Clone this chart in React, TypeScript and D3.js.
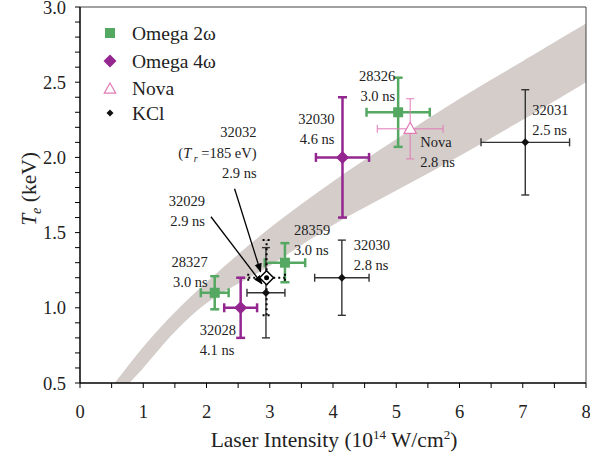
import * as d3 from "d3";
import * as React from "react";

// band (shaded model region): upper and lower edges
const bandUpperI = [0.55, 1.0, 1.5, 2.0, 3.0, 4.0, 5.0, 6.0, 7.0, 8.0];
const bandUpperT = [0.5, 0.74, 0.97, 1.17, 1.53, 1.84, 2.12, 2.39, 2.64, 2.89];
const bandLowerI = [0.78, 1.0, 1.5, 2.0, 3.0, 4.0, 5.0, 6.0, 7.0, 8.0];
const bandLowerT = [0.5, 0.6, 0.84, 1.03, 1.28, 1.55, 1.78, 2.01, 2.25, 2.5];

// Omega 2w (green squares)
const omega2Shots = ["28327", "28359", "28326"];
const omega2Pulse = ["3.0 ns", "3.0 ns", "3.0 ns"];
const omega2I = [2.13, 3.24, 5.03];
const omega2T = [1.1, 1.3, 2.3];
const omega2dI = [0.22, 0.32, 0.5];
const omega2dT = [0.11, 0.13, 0.23];

// Omega 4w (purple diamonds)
const omega4Shots = ["32028", "32030"];
const omega4Pulse = ["4.1 ns", "4.6 ns"];
const omega4I = [2.54, 4.15];
const omega4T = [1.0, 2.0];
const omega4dI = [0.26, 0.42];
const omega4dT = [0.2, 0.4];

// Nova (open triangle)
const novaI = [5.22];
const novaT = [2.19];
const novadI = [0.52];
const novadT = [0.2];

// KCl (small black diamonds)
const kclShots = ["32029", "32030", "32031"];
const kclPulse = ["2.9 ns", "2.8 ns", "2.5 ns"];
const kclI = [2.94, 4.14, 7.04];
const kclT = [1.1, 1.2, 2.1];
const kcldI = [0.3, 0.43, 0.7];
const kcldT = [0.3, 0.25, 0.35];

// KCl 32032 (open diamond, dotted bars)
const k32032I = 2.95;
const k32032T = 1.2;
const k32032dI = 0.29;
const k32032dT = 0.25;

const xTicks = [0, 1, 2, 3, 4, 5, 6, 7, 8];
const yTicks = [0.5, 1.0, 1.5, 2.0, 2.5, 3.0];
const legendNames = ["Omega 2\u03c9", "Omega 4\u03c9", "Nova", "KCl"];

const W = 590, H = 457;
const FONT = "'Liberation Serif', 'Times New Roman', serif";
const GREEN = "#55a862";
const PURPLE = "#93278f";
const PINK = "#e17ab6";
const BLACK = "#222";
const BAND = "#d4cdca";

export default function App() {
  const x = d3.scaleLinear().domain([0, 8]).range([80, 586]);
  const y = d3.scaleLinear().domain([0.5, 3]).range([383, 7]);

  const line = d3.line<[number, number]>().x(d => x(d[0])).y(d => y(d[1])).curve(d3.curveCatmullRom);
  const up = bandUpperI.map((v, i) => [v, bandUpperT[i]] as [number, number]);
  const lo = bandLowerI.map((v, i) => [v, bandLowerT[i]] as [number, number]).reverse();
  const bandPath = line(up) + "L" + (line(lo) || "").slice(1) + "Z";

  const errBar = (I: number, T: number, dI: number, dT: number, color: string, sw: number, cap: number, dash?: string, key?: string) => (
    <g key={key} stroke={color} strokeWidth={sw} strokeDasharray={dash} fill="none">
      <line x1={x(I - dI)} x2={x(I + dI)} y1={y(T)} y2={y(T)} />
      <line x1={x(I)} x2={x(I)} y1={y(T - dT)} y2={y(T + dT)} />
      <line x1={x(I - dI)} x2={x(I - dI)} y1={y(T) - cap} y2={y(T) + cap} />
      <line x1={x(I + dI)} x2={x(I + dI)} y1={y(T) - cap} y2={y(T) + cap} />
      <line x1={x(I) - cap} x2={x(I) + cap} y1={y(T - dT)} y2={y(T - dT)} />
      <line x1={x(I) - cap} x2={x(I) + cap} y1={y(T + dT)} y2={y(T + dT)} />
    </g>
  );

  const label = (px: number, py: number, lines: string[], anchor: string, key: string) => (
    <text key={key} x={px} y={py} textAnchor={anchor} fontFamily={FONT} fontSize={14.5} fill={BLACK}>
      {lines.map((l, i) => (
        <tspan key={i} x={px} dy={i === 0 ? 0 : 20}>{l}</tspan>
      ))}
    </text>
  );

  const diamond = (cx: number, cy: number, r: number) => `M${cx},${cy - r}L${cx + r},${cy}L${cx},${cy + r}L${cx - r},${cy}Z`;
  const triangle = (cx: number, cy: number, r: number) => `M${cx},${cy - r}L${cx + r * 0.95},${cy + r * 0.7}L${cx - r * 0.95},${cy + r * 0.7}Z`;

  // label offsets (pixels) relative to each point
  const o2Off = [[-7, -26, "end"], [9, -28, "start"], [-3, -31, "end"]];
  const o4Off = [[-41, 27, "start"], [-8, -33, "end"]];
  const kOff = [[-61, -87, "end"], [12, -28, "start"], [7, -27, "start"]];

  const yMinor = d3.range(5, 31).map(v => v / 10);
  const xMinor = d3.range(0, 17).map(v => v / 2);

  return (
    <svg width={W} height={H} style={{ position: "absolute", left: 0, top: 0 }}>
      <rect width={W} height={H} fill="#fff" />
      <defs>
        <clipPath id="plot">
          <rect x={80} y={7} width={506} height={376} />
        </clipPath>
        <marker id="arr" viewBox="0 0 10 10" refX={9} refY={5} markerWidth={7} markerHeight={7} orient="auto">
          <path d="M0,1L10,5L0,9Z" fill="#000" />
        </marker>
      </defs>

      <path d={bandPath} fill={BAND} clipPath="url(#plot)" />

      {/* frame */}
      <line x1={80} x2={586} y1={7} y2={7} stroke="#444" strokeWidth={1} />
      <line x1={586} x2={586} y1={7} y2={383} stroke="#444" strokeWidth={1} />
      <line x1={80} x2={80} y1={7} y2={383} stroke="#000" strokeWidth={1.5} />
      <line x1={80} x2={586} y1={383} y2={383} stroke="#000" strokeWidth={1.5} />

      {yMinor.map(v => (
        <line key={"ym" + v} x1={75} x2={80} y1={y(v)} y2={y(v)} stroke="#000" strokeWidth={1} />
      ))}
      {xMinor.map(v => (
        <line key={"xm" + v} x1={x(v)} x2={x(v)} y1={383} y2={388} stroke="#000" strokeWidth={1} />
      ))}
      {yTicks.map(v => (
        <text key={"yt" + v} x={66} y={y(v) + 6.5} textAnchor="end" fontFamily={FONT} fontSize={18.5} fill={BLACK}>{v.toFixed(1)}</text>
      ))}
      {xTicks.map(v => (
        <text key={"xt" + v} x={x(v)} y={418} textAnchor="middle" fontFamily={FONT} fontSize={18.5} fill={BLACK}>{v}</text>
      ))}

      <text x={334} y={447} textAnchor="middle" fontFamily={FONT} fontSize={21.5} fill={BLACK}>
        Laser Intensity (10<tspan dy={-8} fontSize={13}>14</tspan><tspan dy={8}> W/cm</tspan><tspan dy={-8} fontSize={13}>2</tspan><tspan dy={8}>)</tspan>
      </text>
      <text transform="translate(36,189) rotate(-90)" textAnchor="middle" fontFamily={FONT} fontSize={21.5} fill={BLACK}>
        <tspan fontStyle="italic">T</tspan><tspan dy={5} fontSize={14} fontStyle="italic">e</tspan><tspan dy={-5}> (keV)</tspan>
      </text>

      {/* arrows */}
      <line x1={x(kclI[0]) - 55} y1={y(kclT[0]) - 76} x2={x(kclI[0]) - 4} y2={y(kclT[0]) - 9} stroke="#000" strokeWidth={1.3} markerEnd="url(#arr)" />
      <line x1={x(k32032I) - 32} y1={y(k32032T) - 89} x2={x(k32032I) - 6} y2={y(k32032T) - 6} stroke="#000" strokeWidth={1.3} markerEnd="url(#arr)" />

      {/* error bars */}
      {omega2I.map((v, i) => errBar(v, omega2T[i], omega2dI[i], omega2dT[i], GREEN, 2.5, 4.5, undefined, "o2e" + i))}
      {omega4I.map((v, i) => errBar(v, omega4T[i], omega4dI[i], omega4dT[i], PURPLE, 2.5, 4.5, undefined, "o4e" + i))}
      {novaI.map((v, i) => errBar(v, novaT[i], novadI[i], novadT[i], PINK, 1, 4, undefined, "ne" + i))}
      {kclI.map((v, i) => errBar(v, kclT[i], kcldI[i], kcldT[i], "#333", 1.4, 4, undefined, "ke" + i))}
      {errBar(k32032I, k32032T, k32032dI, k32032dT, "#000", 2, 4, "2,3", "k32032")}

      {/* markers */}
      {omega2I.map((v, i) => (
        <rect key={"o2m" + i} x={x(v) - 5} y={y(omega2T[i]) - 5} width={10} height={10} fill={GREEN} />
      ))}
      {omega4I.map((v, i) => (
        <path key={"o4m" + i} d={diamond(x(v), y(omega4T[i]), 6.5)} fill={PURPLE} />
      ))}
      {novaI.map((v, i) => (
        <path key={"nm" + i} d={triangle(x(v), y(novaT[i]), 6.5)} fill="#fff" stroke={PINK} strokeWidth={1.2} />
      ))}
      {kclI.map((v, i) => (
        <path key={"km" + i} d={diamond(x(v), y(kclT[i]), 4)} fill="#111" />
      ))}
      <path d={diamond(x(k32032I), y(k32032T), 7)} fill="#fff" stroke="#000" strokeWidth={1.5} />
      <circle cx={x(k32032I)} cy={y(k32032T)} r={2.5} fill="#000" />

      {/* labels */}
      {omega2I.map((v, i) => label(x(v) + (o2Off[i][0] as number), y(omega2T[i]) + (o2Off[i][1] as number), [omega2Shots[i], omega2Pulse[i]], o2Off[i][2] as string, "o2l" + i))}
      {omega4I.map((v, i) => label(x(v) + (o4Off[i][0] as number), y(omega4T[i]) + (o4Off[i][1] as number), [omega4Shots[i], omega4Pulse[i]], o4Off[i][2] as string, "o4l" + i))}
      {kclI.map((v, i) => label(x(v) + (kOff[i][0] as number), y(kclT[i]) + (kOff[i][1] as number), [kclShots[i], kclPulse[i]], kOff[i][2] as string, "kl" + i))}
      {label(x(novaI[0]) + 10, y(novaT[0]) + 18, ["Nova", "2.8 ns"], "start", "nl")}
      <text x={x(k32032I) - 10} y={y(k32032T) - 141} textAnchor="end" fontFamily={FONT} fontSize={14.5} fill={BLACK}>
        <tspan x={x(k32032I) - 10}>32032</tspan>
        <tspan x={x(k32032I) - 10} dy={21}>(<tspan fontStyle="italic">T</tspan><tspan fontStyle="italic" fontSize={10} dy={4}> r</tspan><tspan dy={-4}> =185 eV)</tspan></tspan>
        <tspan x={x(k32032I) - 10} dy={20}>2.9 ns</tspan>
      </text>

      {/* legend */}
      <rect x={105} y={28} width={10} height={10} fill={GREEN} />
      <path d={diamond(110, 61, 6.5)} fill={PURPLE} />
      <path d={triangle(110, 89, 6)} fill="#fff" stroke={PINK} strokeWidth={1.2} />
      <path d={diamond(110, 113, 3.5)} fill="#111" />
      {legendNames.map((t, i) => (
        <text key={"lg" + i} x={132} y={[39.5, 67.5, 94.5, 119.5][i]} fontFamily={FONT} fontSize={19.5} fill={BLACK}>{t}</text>
      ))}
    </svg>
  );
}
